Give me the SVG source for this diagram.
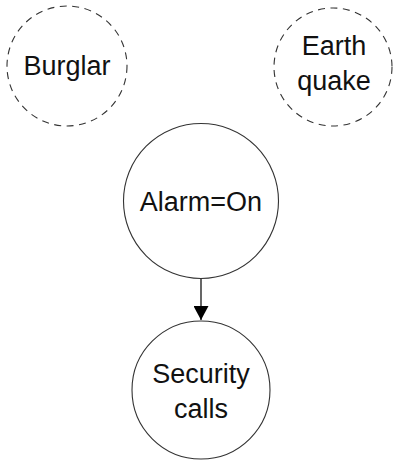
<svg xmlns="http://www.w3.org/2000/svg" width="394" height="460" viewBox="0 0 394 460">
<defs>
<style>
.n{fill:#fff;stroke:#333;stroke-width:1.1}
.d{stroke-dasharray:7 5.5}
.t{font-family:"Liberation Sans",Arial,sans-serif;font-size:27px;fill:#111;text-anchor:middle}
.e{stroke:#000;stroke-width:1.2;fill:none}
</style>
<marker id="ah" viewBox="0 0 14 15" refX="14" refY="7.5" markerWidth="14" markerHeight="15" markerUnits="userSpaceOnUse" orient="auto">
<path d="M0,0L14,7.5L0,15Z" fill="#000"/>
</marker>
</defs>
<g id="edges">
<line class="e" x1="201" y1="279" x2="201" y2="320" marker-end="url(#ah)"/>
</g>
<g id="burglar">
<circle class="n d" cx="67" cy="66" r="60"/>
<text class="t" x="67" y="75">Burglar</text>
</g>
<g id="earthquake">
<circle class="n d" cx="333" cy="67" r="59"/>
<text class="t" x="334" y="55">Earth</text>
<text class="t" x="334" y="90">quake</text>
</g>
<g id="alarm">
<circle class="n" cx="201" cy="201" r="77.5"/>
<text class="t" x="201" y="211">Alarm=On</text>
</g>
<g id="security">
<circle class="n" cx="201" cy="390" r="69"/>
<text class="t" x="201" y="383">Security</text>
<text class="t" x="201" y="418">calls</text>
</g>
</svg>
